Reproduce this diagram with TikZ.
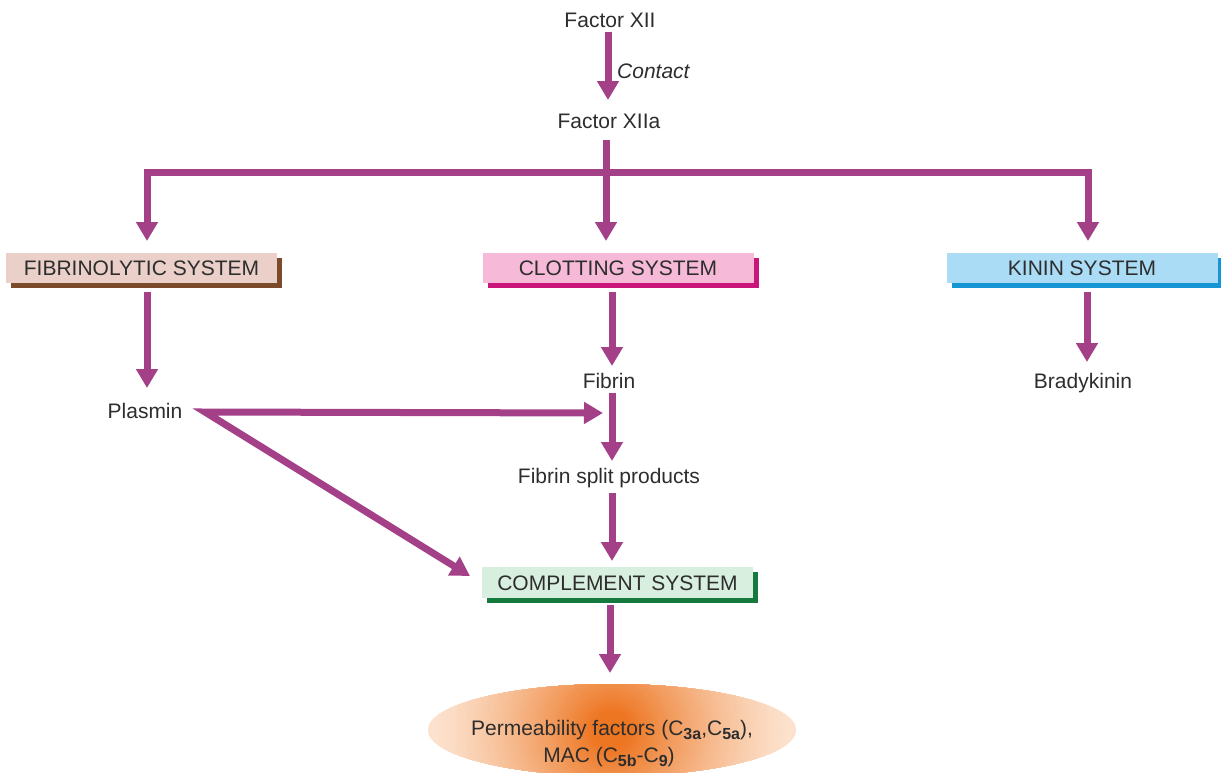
\documentclass[tikz,border=0pt]{standalone}
\usepackage{fontspec}
\setmainfont{Liberation Sans}
\usetikzlibrary{arrows.meta,shapes.geometric,shadows}
\definecolor{arrc}{RGB}{163,64,136}
\definecolor{txt}{RGB}{45,45,45}
\definecolor{fibf}{RGB}{234,208,200}
\definecolor{fibs}{RGB}{122,74,42}
\definecolor{clof}{RGB}{246,186,216}
\definecolor{clos}{RGB}{202,22,122}
\definecolor{kinf}{RGB}{170,220,245}
\definecolor{kins}{RGB}{22,150,212}
\definecolor{comf}{RGB}{216,238,222}
\definecolor{coms}{RGB}{22,122,62}
\definecolor{ocen}{RGB}{237,118,34}
\definecolor{oedge}{RGB}{252,226,206}
\newcommand{\mysub}[1]{\raisebox{-4pt}{\fontsize{16}{18}\selectfont\bfseries #1}}
\begin{document}
\begin{tikzpicture}[x=1pt,y=-1pt,
  lbl/.style={font=\fontsize{21}{25}\selectfont, text=txt, inner sep=0pt, text height=15pt, text depth=0pt},
  sysbox/.style={lbl, minimum width=271pt, minimum height=30pt, fill=#1},
  shad/.style={general shadow={shadow xshift=5pt, shadow yshift=-5pt, fill=#1}},
  arr/.style={draw=arrc, line width=7pt, line join=miter, -{Triangle[width=21pt,length=19pt]}},
  ln/.style={draw=arrc, line width=7pt, line join=miter}]
\clip (0,0) rectangle (1221,772);

% text nodes
\node[lbl] (xii) at (610,19.5) {Factor XII};
\node[lbl, font=\fontsize{21}{25}\selectfont\itshape, anchor=west] (contact) at (617,70.5) {Contact};
\node[lbl] (xiia) at (609,121) {Factor XIIa};

% system boxes
\node[sysbox=fibf, shad=fibs] (fib) at (141.5,268) {FIBRINOLYTIC SYSTEM};
\node[sysbox=clof, shad=clos] (clo) at (618,268) {CLOTTING SYSTEM};
\node[sysbox=kinf, shad=kins] (kin) at (1082,268) {KININ SYSTEM};
\node[sysbox=comf, shad=coms, minimum height=31pt] (com) at (617.5,582.5) {COMPLEMENT SYSTEM};

\node[lbl] (plasmin) at (145,411) {Plasmin};
\node[lbl] (fibrin) at (609,381) {Fibrin};
\node[lbl] (brady) at (1083,381) {Bradykinin};
\node[lbl] (split) at (609,476) {Fibrin split products};

% ellipse with a circular orange glow
\node[ellipse, minimum width=368pt, minimum height=92pt, fill=oedge, draw=none,
  path picture={
    \foreach \r in {186,183,...,3}{
      \pgfmathsetmacro\q{max(0,min(1,(186-\r)/166))}
      \pgfmathtruncatemacro\p{100*(\q^1.4)}
      \fill[ocen!\p!oedge] (path picture bounding box.center) circle (\r pt);
    }
  }] (ell) at (612,730) {};
\node[lbl] (perm1) at (612,728) {Permeability factors (C\mysub{3a},C\mysub{5a}),};
\node[lbl] (perm2) at (609,755) {MAC (C\mysub{5b}-C\mysub{9})};

% coordinates for connector ends
\coordinate (c1) at (608,32);
\coordinate (c2) at (608,100);
\coordinate (s0) at (606,140);
\coordinate (jc) at (606,172);
\coordinate (tf) at (147,241);
\coordinate (tc) at (606,241);
\coordinate (tk) at (1088,241);
\coordinate (f0) at (147,292);
\coordinate (f1) at (147,388);
\coordinate (k0) at (1087,292);
\coordinate (k1) at (1087,362);
\coordinate (l0) at (612,292);
\coordinate (l1) at (612,366);
\coordinate (pv) at (205,412);
\coordinate (ph) at (603,413);
\coordinate (pd) at (470,576);
\coordinate (b0) at (612,393);
\coordinate (b1) at (612,461);
\coordinate (d0) at (612,493);
\coordinate (d1) at (612,561);
\coordinate (e0) at (610,605);
\coordinate (e1) at (610,673);

% connectors
\draw[arr] (c1) -- (c2);
\draw[arr] (s0) -- (tc);
\draw[arr] (jc) -| (tf);
\draw[arr] (jc) -| (tk);
\draw[arr] (f0) -- (f1);
\draw[arr] (l0) -- (l1);
\draw[arr] (k0) -- (k1);
\draw[ln, {Triangle[width=21pt,length=19pt]}-{Triangle[width=21pt,length=19pt]}] (ph) -- (pv) -- (pd);
\draw[arr] (b0) -- (b1);
\draw[arr] (d0) -- (d1);
\draw[arr] (e0) -- (e1);
\end{tikzpicture}
\end{document}
